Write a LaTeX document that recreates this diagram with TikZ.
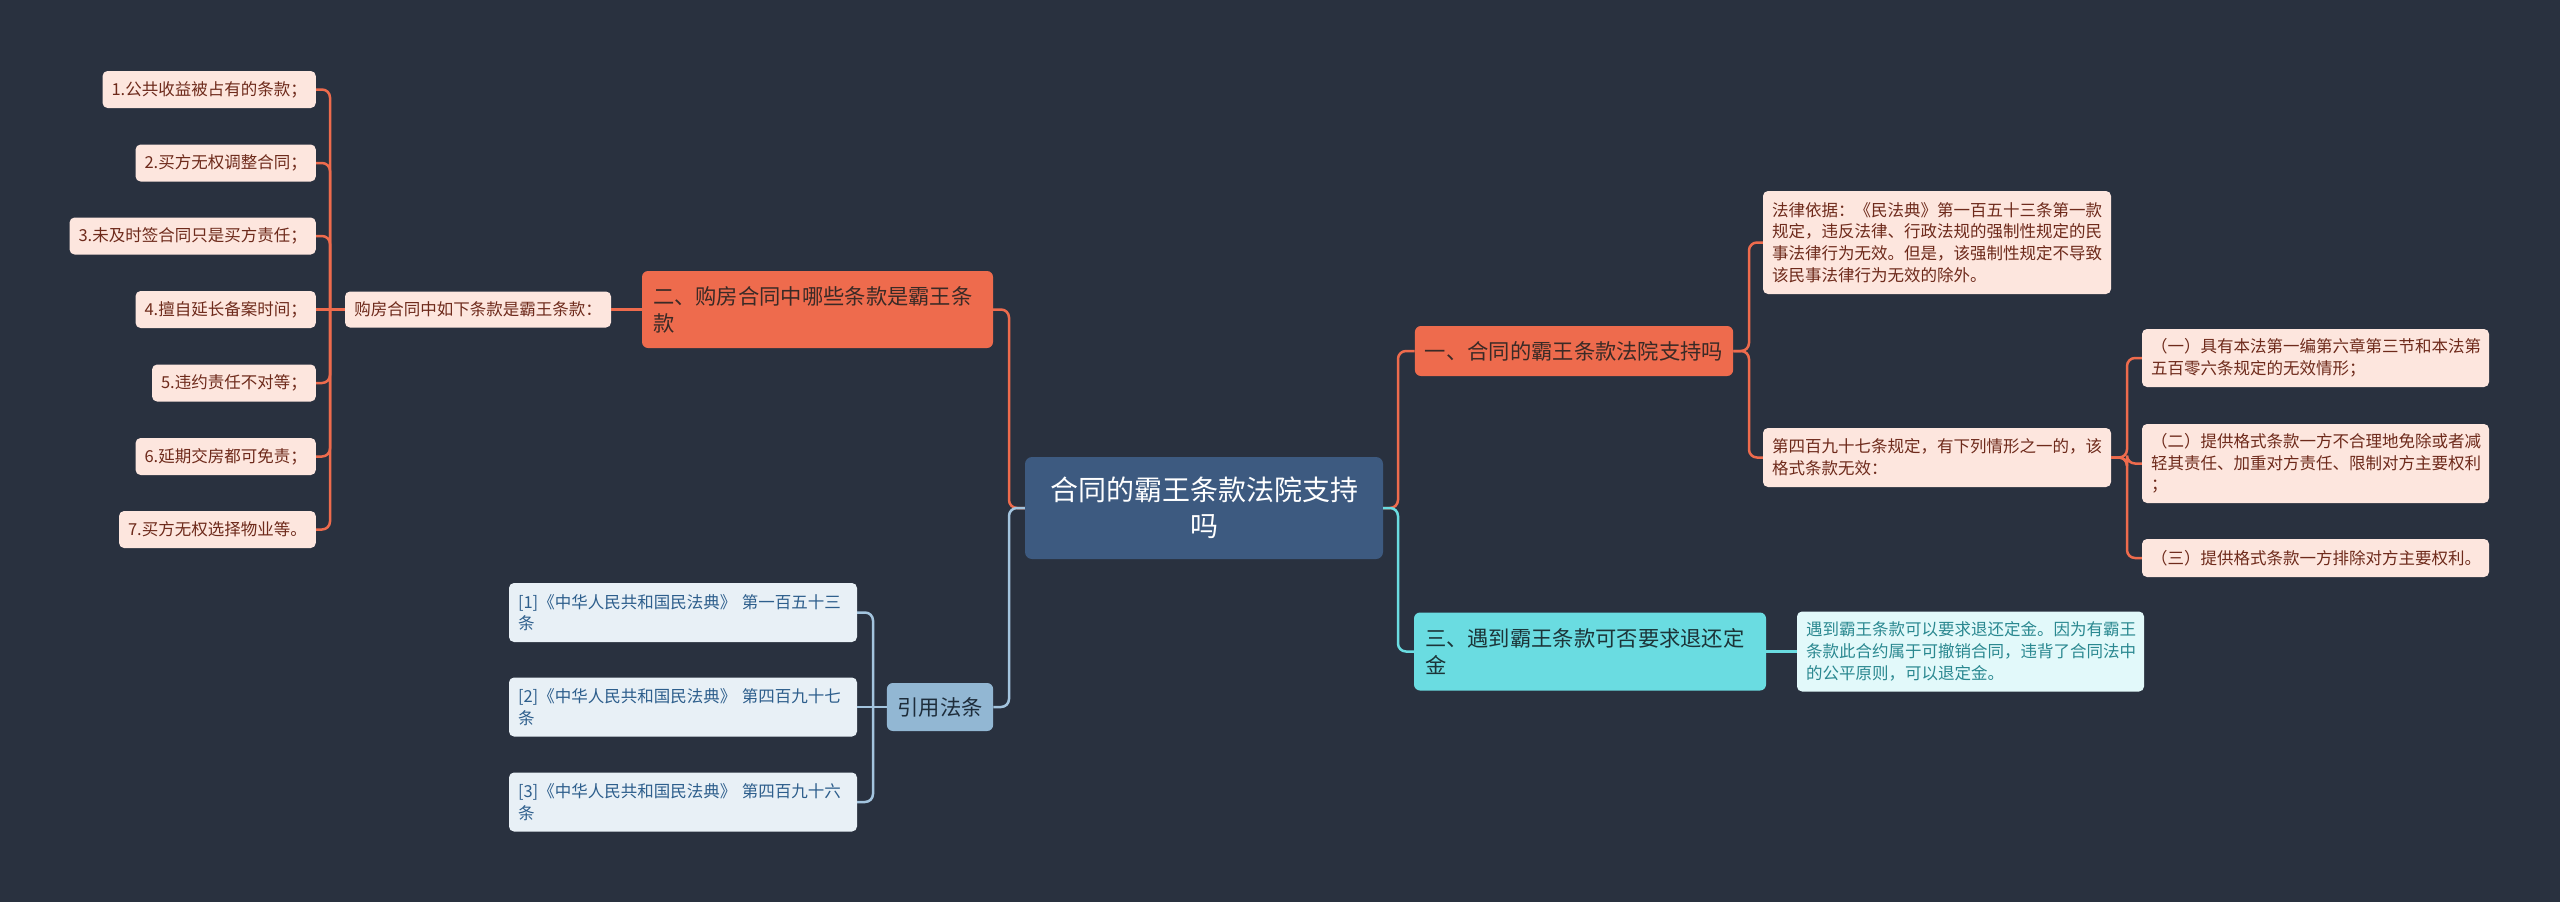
\documentclass[tikz,border=0pt]{standalone}
\usepackage{fontspec}
\setmainfont{Noto Sans CJK SC}
\definecolor{bgnavy}{HTML}{29313F}
\definecolor{rootfill}{HTML}{3D5A80}
\definecolor{coral}{HTML}{EE6B4D}
\definecolor{hottext}{HTML}{3A2A26}
\definecolor{leafpink}{HTML}{FDE6DE}
\definecolor{leaftext}{HTML}{6E2A1B}
\definecolor{citefill}{HTML}{92B7D3}
\definecolor{citeline}{HTML}{A3C4DE}
\definecolor{citetext}{HTML}{1E2D3B}
\definecolor{reffill}{HTML}{E8F0F6}
\definecolor{reftext}{HTML}{2D5E8C}
\definecolor{aqua}{HTML}{6ADCE1}
\definecolor{aquatext}{HTML}{1C3438}
\definecolor{ansfill}{HTML}{E2F9FA}
\definecolor{anstext}{HTML}{2A8890}

\tikzset{
  topic/.style={fill=rootfill, text=white, rounded corners=7pt, inner sep=0pt,
    minimum width=358pt, minimum height=102pt, align=center,
    font=\fontsize{28}{36}\selectfont},
  hot/.style={rounded corners=6pt, inner xsep=11pt, inner ysep=0pt, align=left,
    font=\fontsize{21.3}{27}\selectfont},
  leaf/.style={rounded corners=5pt, inner xsep=9pt, inner ysep=0pt, align=left,
    font=\fontsize{16.5}{21.7}\selectfont},
  conn/.style={line width=2.5pt, rounded corners=8pt},
}

\begin{document}
\begin{tikzpicture}[x=1pt,y=-1pt]
  \fill[bgnavy] (0,0) rectangle (2560,902);

  \node[topic] (root) at (1204,508) {合同的霸王条款法院支持\\吗};

  % left side
  \node[hot, fill=coral, text=hottext, text width=329pt, minimum height=77pt] (two) at (817.5,309.5)
    {二、购房合同中哪些条款是霸王条\\款};
  \node[leaf, fill=leafpink, text=leaftext, minimum width=266pt, minimum height=36pt] (buy) at (478,309.5)
    {购房合同中如下条款是霸王条款：};

  \node[leaf, fill=leafpink, text=leaftext, anchor=east, minimum width=212pt, minimum height=37pt] (it1) at (316,89.5) {1.公共收益被占有的条款；};
  \node[leaf, fill=leafpink, text=leaftext, anchor=east, minimum width=179pt, minimum height=37pt] (it2) at (316,163) {2.买方无权调整合同；};
  \node[leaf, fill=leafpink, text=leaftext, anchor=east, minimum width=244pt, minimum height=37pt] (it3) at (316,236) {3.未及时签合同只是买方责任；};
  \node[leaf, fill=leafpink, text=leaftext, anchor=east, minimum width=179pt, minimum height=37pt] (it4) at (316,309.5) {4.擅自延长备案时间；};
  \node[leaf, fill=leafpink, text=leaftext, anchor=east, minimum width=163pt, minimum height=37pt] (it5) at (316,383) {5.违约责任不对等；};
  \node[leaf, fill=leafpink, text=leaftext, anchor=east, minimum width=179pt, minimum height=37pt] (it6) at (316,456.5) {6.延期交房都可免责；};
  \node[leaf, fill=leafpink, text=leaftext, anchor=east, minimum width=195pt, minimum height=37pt] (it7) at (316,529.5) {7.买方无权选择物业等。};

  \node[hot, fill=citefill, text=citetext, inner xsep=10.5pt, minimum height=48pt] (cite) at (940,707) {引用法条};
  \node[leaf, fill=reffill, text=reftext, text width=330pt, minimum height=59pt] (ref1) at (683,612.5)
    {[1]《中华人民共和国民法典》 第一百五十三\\条};
  \node[leaf, fill=reffill, text=reftext, text width=330pt, minimum height=59pt] (ref2) at (683,707)
    {[2]《中华人民共和国民法典》 第四百九十七\\条};
  \node[leaf, fill=reffill, text=reftext, text width=330pt, minimum height=59pt] (ref3) at (683,802)
    {[3]《中华人民共和国民法典》 第四百九十六\\条};

  % right side
  \node[hot, fill=coral, text=hottext, inner xsep=10pt, minimum height=50pt] (one) at (1574,351)
    {一、合同的霸王条款法院支持吗};
  \node[leaf, fill=leafpink, text=leaftext, text width=330pt, minimum height=103pt] (basis) at (1937,242.5)
    {法律依据：《民法典》第一百五十三条第一款\\规定，违反法律、行政法规的强制性规定的民\\事法律行为无效。但是，该强制性规定不导致\\该民事法律行为无效的除外。};
  \node[leaf, fill=leafpink, text=leaftext, text width=330pt, minimum height=59pt] (art) at (1937,457.5)
    {第四百九十七条规定，有下列情形之一的，该\\格式条款无效：};
  \node[leaf, fill=leafpink, text=leaftext, text width=329pt, minimum height=58pt] (case1) at (2315.5,358)
    {（一）具有本法第一编第六章第三节和本法第\\五百零六条规定的无效情形；};
  \node[leaf, fill=leafpink, text=leaftext, text width=329pt, minimum height=79pt] (case2) at (2315.5,463.5)
    {（二）提供格式条款一方不合理地免除或者减\\轻其责任、加重对方责任、限制对方主要权利\\；};
  \node[leaf, fill=leafpink, text=leaftext, text width=329pt, minimum height=38pt] (case3) at (2315.5,558)
    {（三）提供格式条款一方排除对方主要权利。};

  \node[hot, fill=aqua, text=aquatext, text width=330pt, minimum height=78pt] (three) at (1590,651.5)
    {三、遇到霸王条款可否要求退还定\\金};
  \node[leaf, fill=ansfill, text=anstext, text width=329pt, minimum height=80pt] (ans) at (1970.5,651.5)
    {遇到霸王条款可以要求退还定金。因为有霸王\\条款此合约属于可撤销合同，违背了合同法中\\的公平原则，可以退定金。};

  % connectors
  \coordinate (rl) at (1009,508);
  \coordinate (rr) at (1398,508);
  \coordinate (bl) at (330,309.5);
  \coordinate (cl) at (873,707);
  \coordinate (ol) at (1749,351);
  \coordinate (al) at (2127,457.5);

  \draw[conn, coral] (root.west) -- (rl) |- (two.east);
  \draw[conn, citeline] (root.west) -- (rl) |- (cite.east);
  \draw[conn, coral] (root.east) -- (rr) |- (one.west);
  \draw[conn, aqua] (root.east) -- (rr) |- (three.west);

  \draw[conn, coral] (two.west) -- (buy.east);
  \draw[conn, coral] (buy.west) -- (it4.east);
  \foreach \i in {1,2,3,5,6,7}
    \draw[conn, coral] (bl) |- (it\i.east);

  \draw[conn, citeline] (cite.west) -- (ref2.east);
  \draw[conn, citeline] (cl) |- (ref1.east);
  \draw[conn, citeline] (cl) |- (ref3.east);

  \draw[conn, coral] (one.east) -- (ol) |- (basis.west);
  \draw[conn, coral] (one.east) -- (ol) |- (art.west);
  \draw[conn, coral] (art.east) -- (al) |- (case1.west);
  \draw[conn, coral] (art.east) -- (al) |- (case2.west);
  \draw[conn, coral] (art.east) -- (al) |- (case3.west);

  \draw[conn, aqua] (three.east) -- (ans.west);
\end{tikzpicture}
\end{document}
